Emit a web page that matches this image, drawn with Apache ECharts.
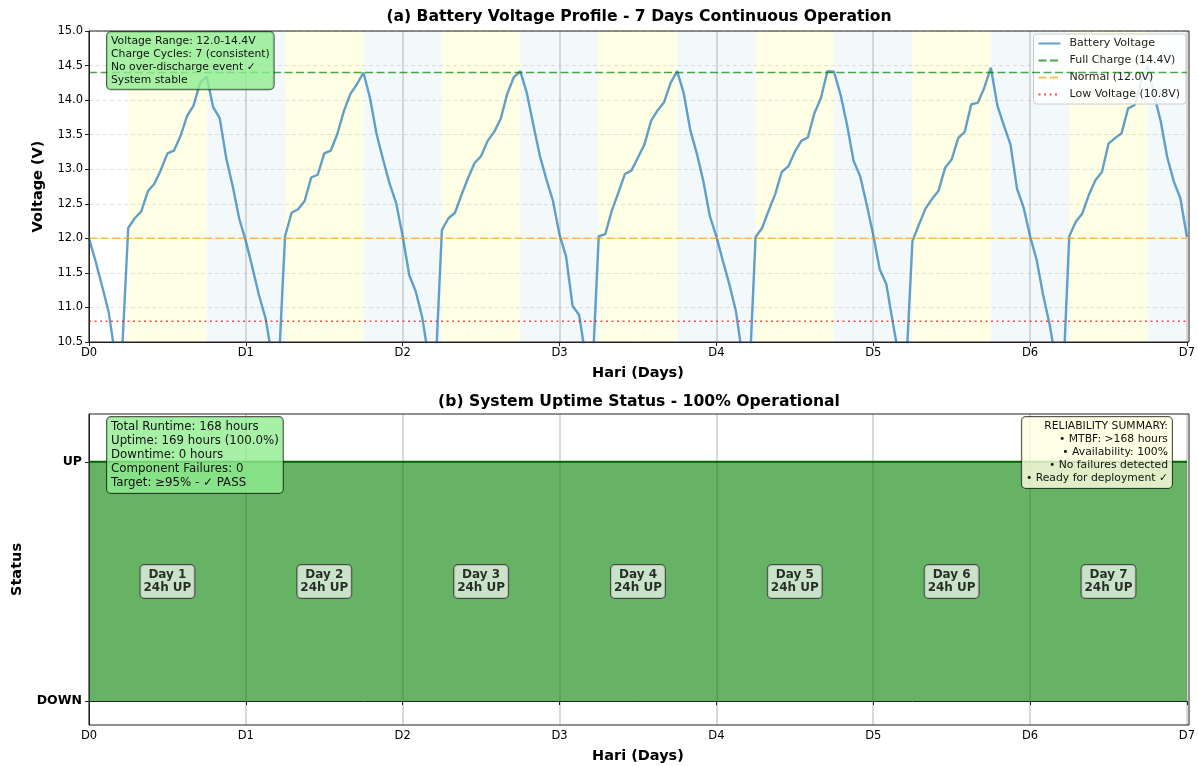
<!DOCTYPE html>
<html>
<head>
<meta charset="utf-8">
<script src="https://cdn.jsdelivr.net/npm/echarts@6/dist/echarts.min.js"></script>
<style>
html, body { margin: 0; padding: 0; background: #fff; }
#chart { width: 1198px; height: 766px; }
</style>
</head>
<body>
<div id="chart"></div>
<script>
// hourly battery voltage, hour 0 .. 168 (values below 10.5 are clipped by the axis)
const voltage = [
  12.00, 11.67, 11.31, 10.94, 10.30, 10.23, 12.15, 12.29, 12.39, 12.68, 12.79, 12.99,
  13.23, 13.27, 13.48, 13.77, 13.92, 14.25, 14.34, 13.90, 13.74, 13.16, 12.75, 12.28,
  11.96, 11.58, 11.18, 10.85, 10.30, 10.10, 12.03, 12.37, 12.42, 12.54, 12.88, 12.92,
  13.23, 13.27, 13.51, 13.84, 14.09, 14.23, 14.40, 14.03, 13.51, 13.14, 12.79, 12.51,
  12.03, 11.47, 11.23, 10.85, 10.25, 10.05, 12.12, 12.29, 12.37, 12.63, 12.87, 13.09,
  13.19, 13.41, 13.54, 13.73, 14.09, 14.33, 14.42, 14.10, 13.64, 13.19, 12.85, 12.54,
  12.05, 11.74, 11.02, 10.89, 10.28, 10.00, 12.03, 12.06, 12.40, 12.66, 12.93, 12.98,
  13.17, 13.36, 13.70, 13.85, 13.97, 14.25, 14.42, 14.10, 13.57, 13.23, 12.83, 12.32,
  12.03, 11.67, 11.33, 10.94, 10.28, 9.90, 12.02, 12.15, 12.40, 12.64, 12.96, 13.04,
  13.25, 13.41, 13.46, 13.81, 14.03, 14.42, 14.41, 14.08, 13.64, 13.12, 12.90, 12.49,
  12.05, 11.55, 11.34, 10.78, 10.25, 10.05, 11.96, 12.20, 12.43, 12.57, 12.69, 13.02,
  13.14, 13.45, 13.54, 13.94, 13.96, 14.18, 14.47, 13.92, 13.63, 13.36, 12.72, 12.45,
  12.03, 11.69, 11.18, 10.75, 10.20, 9.85, 12.03, 12.24, 12.36, 12.63, 12.84, 12.96,
  13.37, 13.45, 13.52, 13.88, 13.93, 14.27, 14.50, 14.07, 13.69, 13.17, 12.82, 12.58,
  12.02
];

const dayTicks = ['D0', 'D1', 'D2', 'D3', 'D4', 'D5', 'D6', 'D7'];
const dayBands = [[0.25, 0.75], [1.25, 1.75], [2.25, 2.75], [3.25, 3.75], [4.25, 4.75], [5.25, 5.75], [6.25, 6.75]];
const nightBands = [[0.75, 1.25], [1.75, 2.25], [2.75, 3.25], [3.75, 4.25], [4.75, 5.25], [5.75, 6.25], [6.75, 7]];
const fullCharge = 14.4;
const normalV = 12.0;
const lowV = 10.8;

// uptime panel
const uptimeDays = [0, 1, 2, 3, 4, 5, 6, 7];
const uptimeStatus = [1, 1, 1, 1, 1, 1, 1, 1];
const statusTicks = [0, 1];
const statusNames = ['DOWN', 'UP'];
const dayLabels = ['Day 1\n24h UP', 'Day 2\n24h UP', 'Day 3\n24h UP', 'Day 4\n24h UP', 'Day 5\n24h UP', 'Day 6\n24h UP', 'Day 7\n24h UP'];
const dayLabelPos = [0.5, 1.5, 2.5, 3.5, 4.5, 5.5, 6.5];

const FONT = 'DejaVu Sans';
const chart = echarts.init(document.getElementById('chart'));

function xAxisCfg(idx) {
  return {
    gridIndex: idx,
    type: 'value',
    min: 0,
    max: 7,
    interval: 1,
    axisLine: { lineStyle: { color: '#222' } },
    axisTick: { length: 4, lineStyle: { color: '#222' } },
    axisLabel: { formatter: v => dayTicks[v], color: '#000', fontSize: 11.5, margin: 5 },
    splitLine: { show: true, lineStyle: { color: 'rgba(128,128,128,0.4)', width: 1.5 } },
    name: 'Hari (Days)',
    nameLocation: 'middle',
    nameGap: 24,
    nameTextStyle: { fontWeight: 'bold', fontSize: 14.5, color: '#000', verticalAlign: 'top' }
  };
}

const bandAreas = [];
dayBands.forEach(b => bandAreas.push([{ xAxis: b[0], itemStyle: { color: 'rgba(255,255,0,0.1)' } }, { xAxis: b[1] }]));
nightBands.forEach(b => bandAreas.push([{ xAxis: b[0], itemStyle: { color: 'rgba(173,216,230,0.14)' } }, { xAxis: b[1] }]));

function refLine(name, value, color, dash) {
  return {
    name: name,
    type: 'line',
    xAxisIndex: 0,
    yAxisIndex: 0,
    data: [[0, value], [7, value]],
    symbol: 'none',
    silent: true,
    z: 4,
    itemStyle: { color: color },
    lineStyle: { color: color, width: 1.5, type: dash }
  };
}

chart.setOption({
  animation: false,
  textStyle: { fontFamily: FONT },
  grid: [
    { left: 89, top: 31, width: 1100, height: 311 },
    { left: 89, top: 414, width: 1100, height: 311 }
  ],
  xAxis: [xAxisCfg(0), xAxisCfg(1)],
  yAxis: [
    {
      gridIndex: 0,
      type: 'value',
      min: 10.5,
      max: 15,
      interval: 0.5,
      axisLine: { show: true, lineStyle: { color: '#222' } },
      axisTick: { show: true, length: 4, lineStyle: { color: '#222' } },
      axisLabel: { formatter: v => v.toFixed(1), color: '#000', fontSize: 11.5, margin: 6 },
      splitLine: { show: true, lineStyle: { color: 'rgba(0,0,0,0.12)', type: [4, 3] } },
      name: 'Voltage (V)',
      nameLocation: 'middle',
      nameGap: 43,
      nameTextStyle: { fontWeight: 'bold', fontSize: 14.5, color: '#000' }
    },
    {
      gridIndex: 1,
      type: 'value',
      min: -0.1,
      max: 1.2,
      axisLine: { show: true, lineStyle: { color: '#222' } },
      axisTick: { show: true, length: 4, customValues: statusTicks, lineStyle: { color: '#222' } },
      axisLabel: {
        customValues: statusTicks,
        formatter: v => statusNames[statusTicks.indexOf(v)],
        color: '#000', fontSize: 12.5, fontWeight: 'bold', margin: 7
      },
      splitLine: { show: false },
      name: 'Status',
      nameLocation: 'middle',
      nameGap: 64,
      nameTextStyle: { fontWeight: 'bold', fontSize: 14.5, color: '#000' }
    }
  ],
  legend: {
    data: ['Battery Voltage', 'Full Charge (14.4V)', 'Normal (12.0V)', 'Low Voltage (10.8V)'],
    orient: 'vertical',
    right: 12,
    top: 34,
    padding: [4, 6, 4, 4],
    itemWidth: 22,
    itemHeight: 8,
    itemGap: 6,
    itemStyle: { opacity: 0 },
    backgroundColor: 'rgba(255,255,255,0.85)',
    borderColor: '#ccc',
    borderWidth: 1,
    borderRadius: 3,
    textStyle: { fontSize: 11, color: '#222', padding: [0, 0, 0, 4] }
  },
  series: [
    {
      name: 'bands',
      type: 'line',
      xAxisIndex: 0,
      yAxisIndex: 0,
      data: [],
      silent: true,
      z: 0,
      markArea: { silent: true, data: bandAreas }
    },
    {
      name: 'Battery Voltage',
      type: 'line',
      xAxisIndex: 0,
      yAxisIndex: 0,
      data: voltage.map((v, i) => [i / 24, v]),
      symbol: 'none',
      clip: true,
      z: 3,
      itemStyle: { color: 'rgba(31,119,180,0.7)' },
      lineStyle: { color: 'rgba(31,119,180,0.7)', width: 2.4 }
    },
    refLine('Full Charge (14.4V)', fullCharge, 'rgba(0,128,0,0.7)', [8, 3.5]),
    refLine('Normal (12.0V)', normalV, 'rgba(255,165,0,0.7)', [8, 3.5]),
    refLine('Low Voltage (10.8V)', lowV, 'rgba(255,0,0,0.7)', [2, 3.5]),
    {
      name: 'Uptime',
      type: 'line',
      xAxisIndex: 1,
      yAxisIndex: 1,
      data: uptimeDays.map((d, i) => [d, uptimeStatus[i]]),
      symbol: 'none',
      silent: true,
      z: 2,
      lineStyle: { color: '#006400', width: 2 },
      areaStyle: { color: 'rgb(0,128,0)', opacity: 0.6, origin: 'auto' }
    },
    {
      name: 'Day labels',
      type: 'scatter',
      xAxisIndex: 1,
      yAxisIndex: 1,
      data: dayLabelPos.map(x => [x, 0.5]),
      symbolSize: 1,
      itemStyle: { color: 'rgba(0,0,0,0)' },
      silent: true,
      z: 5,
      label: {
        show: true,
        position: 'inside',
        formatter: p => dayLabels[p.dataIndex],
        fontSize: 12,
        fontWeight: 'bold',
        lineHeight: 13,
        color: '#000',
        align: 'center',
        backgroundColor: 'rgba(255,255,255,0.8)',
        borderColor: '#333',
        borderWidth: 1,
        borderRadius: 4,
        padding: [4, 3, 3, 3]
      }
    }
  ],
  graphic: [
    {
      type: 'text', x: 639, y: 17, z: 10,
      style: { text: '(a) Battery Voltage Profile - 7 Days Continuous Operation', font: 'bold 15.6px ' + FONT, fill: '#000', align: 'center', verticalAlign: 'middle', textAlign: 'center', textVerticalAlign: 'middle' }
    },
    {
      type: 'text', x: 639, y: 402, z: 10,
      style: { text: '(b) System Uptime Status - 100% Operational', font: 'bold 15.6px ' + FONT, fill: '#000', align: 'center', verticalAlign: 'middle', textAlign: 'center', textVerticalAlign: 'middle' }
    },
    {
      type: 'text', x: 107, y: 32, z: 20,
      style: {
        text: 'Voltage Range: 12.0-14.4V\nCharge Cycles: 7 (consistent)\nNo over-discharge event \u2713\nSystem stable',
        font: '10.8px ' + FONT, lineHeight: 12.8, fill: '#111',
        backgroundColor: 'rgba(144,238,144,0.8)', borderColor: 'rgba(0,0,0,0.65)', borderWidth: 1, borderRadius: 4,
        padding: [3, 4, 3, 4]
      }
    },
    {
      type: 'text', x: 107, y: 417, z: 20,
      style: {
        text: 'Total Runtime: 168 hours\nUptime: 169 hours (100.0%)\nDowntime: 0 hours\nComponent Failures: 0\nTarget: \u226595% - \u2713 PASS',
        font: '11.8px ' + FONT, lineHeight: 14, fill: '#111',
        backgroundColor: 'rgba(144,238,144,0.8)', borderColor: 'rgba(0,0,0,0.65)', borderWidth: 1, borderRadius: 4,
        padding: [3, 4, 3, 4]
      }
    },
    {
      type: 'text', x: 1172, y: 417, z: 20,
      style: {
        text: 'RELIABILITY SUMMARY:\n\u2022 MTBF: >168 hours\n\u2022 Availability: 100%\n\u2022 No failures detected\n\u2022 Ready for deployment \u2713',
        font: '10.8px ' + FONT, lineHeight: 13, fill: '#111',
        align: 'right', textAlign: 'right',
        backgroundColor: 'rgba(255,255,224,0.8)', borderColor: 'rgba(0,0,0,0.65)', borderWidth: 1, borderRadius: 4,
        padding: [3, 4, 3, 4]
      }
    },
    { type: 'rect', z: 30, silent: true, shape: { x: 89, y: 31, width: 1100, height: 311 }, style: { fill: 'none', stroke: '#222', lineWidth: 1 } },
    { type: 'rect', z: 30, silent: true, shape: { x: 89, y: 414, width: 1100, height: 311 }, style: { fill: 'none', stroke: '#222', lineWidth: 1 } }
  ]
});
</script>
</body>
</html>
